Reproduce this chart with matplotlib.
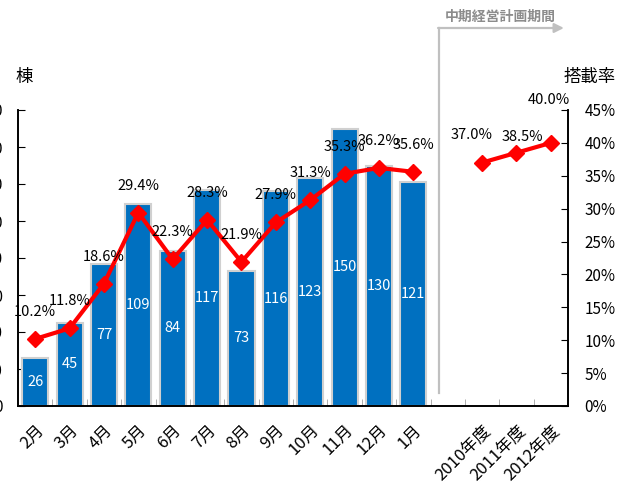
import matplotlib
matplotlib.use("Agg")
import matplotlib.pyplot as plt
import matplotlib.font_manager as fm
from matplotlib.ticker import FuncFormatter, FixedLocator
import numpy as np

plt.rcParams['font.family'] = ['Noto Sans CJK JP', 'DejaVu Sans']

# data
categories = ["2月", "3月", "4月", "5月", "6月", "7月", "8月", "9月", "10月", "11月", "12月", "1月",
              "", "2010年度", "2011年度", "2012年度"]
units = [26, 45, 77, 109, 84, 117, 73, 116, 123, 150, 130, 121]
rates = [10.2, 11.8, 18.6, 29.4, 22.3, 28.3, 21.9, 27.9, 31.3, 35.3, 36.2, 35.6,
         np.nan, 37.0, 38.5, 40.0]
# label offsets in pixels (dx, dy) relative to each marker
label_offsets = [(0, 27)] * 12 + [None, (-10, 28), (6, 16), (-2, 43)]

names = {f.name for f in fm.fontManager.ttflist}
if "Liberation Sans Narrow" in names:
    num_family = ["Liberation Sans Narrow", "Noto Sans CJK JP"]
    num_size = 12.5
else:
    num_family = ["Noto Sans CJK JP", "DejaVu Sans"]
    num_size = 10.5

fig = plt.figure(figsize=(6.27, 4.88), dpi=100)
ax = fig.add_axes([18 / 627, 82 / 488, 550 / 627, 296 / 488])
ax2 = ax.twinx()

x = np.arange(len(categories))
xb = x[:len(units)]

ax.bar(xb, units, width=0.76, color="#0070C0", edgecolor="#d0d0d0", linewidth=1.5, zorder=2)
for xi, v in zip(xb, units):
    ax.text(xi, v / 2, str(v), color="white", ha="center", va="center",
            family=num_family, fontsize=num_size, zorder=3)

ax.set_xlim(-0.5, len(categories) - 0.5)
ax.set_ylim(0, 160)
ax.set_yticks(range(0, 161, 20))
ax.tick_params(axis="y", direction="in", length=5, pad=11, labelsize=11)

ax.set_xticks(x)
ax.set_xticklabels(categories, rotation=45, ha="right", va="top", rotation_mode="anchor", fontsize=12)
ax.tick_params(axis="x", which="major", length=0, pad=11)
ax.xaxis.set_minor_locator(FixedLocator(np.arange(0.5, len(categories) - 1, 1)))
ax.tick_params(axis="x", which="minor", direction="in", length=5, color="#a0a0a0")

rates_arr = np.array(rates) / 100
ax2.plot(x, rates_arr, color="#FF0000", lw=3, marker="D", ms=8, mec="#FF0000", zorder=5)
ax2.set_ylim(0, 0.45)
ax2.set_yticks(np.arange(0, 0.451, 0.05))
ax2.yaxis.set_major_formatter(FuncFormatter(lambda v, p: f"{v * 100:.0f}%"))
ax2.tick_params(axis="y", direction="in", length=5, pad=12, labelsize=11)
for tl in ax2.get_yticklabels():
    tl.set_family(num_family)
for tl in ax.get_yticklabels():
    tl.set_family(num_family)

for xi, r, off in zip(x, rates, label_offsets):
    if off is None:
        continue
    ax2.annotate(f"{r:.1f}%", (xi, r / 100), xytext=off, textcoords="offset pixels",
                 ha="center", va="center", family=num_family, fontsize=num_size, zorder=6)

for a in (ax, ax2):
    a.spines["top"].set_visible(False)
    for s in ("left", "right", "bottom"):
        a.spines[s].set_linewidth(1.2)
        a.spines[s].set_color("black")

ax.text(0.011, 1.111, "棟", transform=ax.transAxes, ha="center", va="center", fontsize=12.5)
ax.text(1.04, 1.111, "搭載率", transform=ax.transAxes, ha="center", va="center", fontsize=12.5)

# mid-term plan bracket
trans = ax.get_xaxis_transform()
ax.plot([11.75, 11.75], [0.044, 1.277], color="#c0c0c0", lw=1.6, transform=trans, clip_on=False)
ax.annotate("", xy=(15.38, 1.277), xytext=(11.72, 1.277), xycoords=trans, textcoords=trans,
            arrowprops=dict(arrowstyle="-|>", color="#c0c0c0", lw=1.6, mutation_scale=14,
                            shrinkA=0, shrinkB=0), annotation_clip=False)
ax.text(13.52, 1.314, "中期経営計画期間", transform=trans, ha="center", va="center",
        fontsize=10, fontweight="bold", color="#8c8c8c")

fig.savefig("out.png", dpi=100)
